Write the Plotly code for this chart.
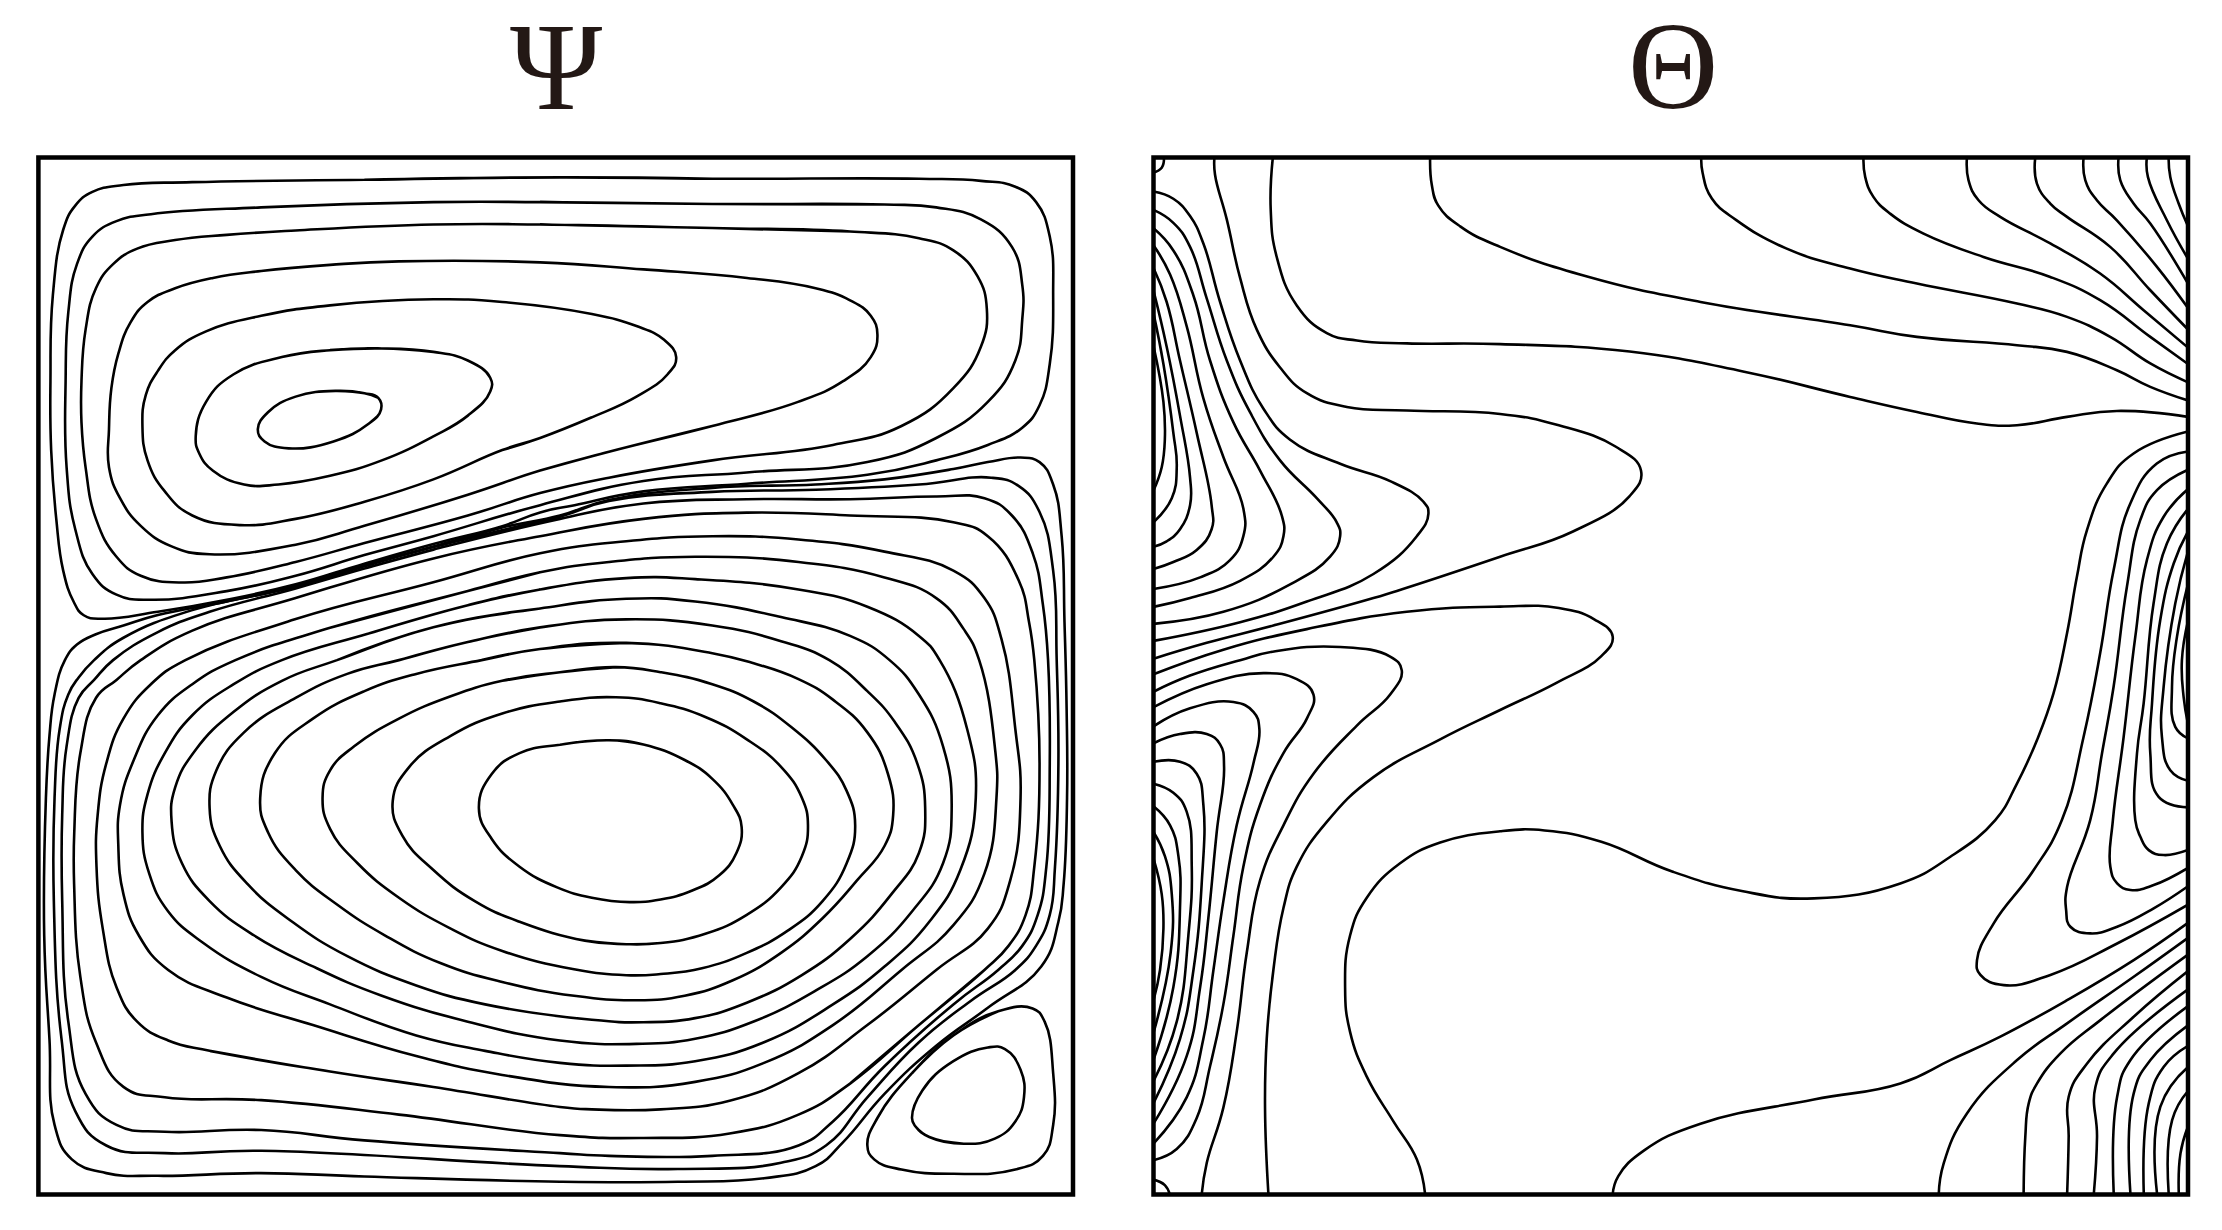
import math
import plotly.graph_objects as go

# contour lines, (x, y) in panel units
# Psi - upper cell, outer to inner
u1 = [(35.5,268.9),(37.2,208.2),(44.5,162),(53,145),(65.1,135.3),(87,130.4),(135.6,128.4),(257,126.7),(395,125),(502.5,126),(648.3,126),(692,127.5),(716.3,131.6),(731,142.5),(740.6,166.8),(743,208.2),(740.6,256.8),(733.4,285.9),(721.2,301.7),(696.9,313.9),(660.5,324.8),(611.9,335),(526.8,341.3),(453.9,346.7),(405.3,356.4),(381,361.5),(354.3,371.2),(305.7,383.8),(257,397.7),(208.5,412.3),(159.9,423.2),(111.3,431.7),(72.4,436.6),(59,434.1),(51.8,424.4),(44.5,402.6),(39.6,366.1),(36,317.5)]
u2 = [(46.2,268.9),(48.1,220.3),(54.2,186.3),(65.1,166.8),(82.1,155.9),(106.4,151),(184.2,146.2),(305.7,142.5),(381,142.5),(502.5,143.8),(624,144.2),(660.5,146.2),(692,154.7),(713.9,174.1),(721.2,200.9),(721.2,225.2),(716.3,254.3),(696.9,283.5),(660.5,309),(611.9,326),(526.8,333.3),(453.9,339.4),(381,356.4),(305.7,378.3),(257,391.6),(208.5,406.2),(159.9,417.1),(106.4,423.2),(82.1,419.6),(65.1,405),(53,373.4),(46.9,329.7)]
u3 = [(57.4,268.9),(60.3,232.5),(67.6,203.3),(79.7,186.3),(96.7,175.3),(123.5,169.3),(159.9,165.6),(208.5,162.5),(305.7,158.3),(381,158.3),(502.5,160.8),(599.7,163.2),(648.3,168),(672.6,176.6),(689.6,194.8),(696.2,217.9),(692,244.6),(672.6,273.8),(636,300.5),(587.6,313.9),(502.5,324.8),(429.6,337),(381,347.9),(330,363.7),(257.1,383.1),(208.5,396.5),(159.9,407.4),(128.3,411),(99.2,406.2),(82.1,392.8),(67.6,366.1),(60.3,329.7),(57.4,298)]
u4 = [(76.8,302.9),(78.5,273.8),(83.4,249.5),(91.9,227.6),(104,213),(123.5,203.3),(150.2,196),(184.2,191.1),(232.8,186.8),(281.4,184.3),(381,185),(454,190),(527,196),(575.4,203.3),(599.7,211.8),(614.3,222.7),(619,236),(614.3,251.9),(594.8,268.9),(563,283.5),(502.5,300.5),(429.6,318.7),(381,332),(330,349),(257,371),(208.5,384.3),(147.8,391.1),(121,385.5),(99.2,371),(84.6,351.5),(76.8,329.7)]
u5 = [(100.4,300.5),(102.8,278.6),(111.3,261.6),(123.5,247),(145.3,233.7),(184.2,222.7),(232.8,215.4),(305.7,211.1),(354.3,213),(417.5,221.5),(449,230),(468.5,239.7),(477,251.9),(471,264),(449,279.8),(417.5,294.4),(381,309),(354.3,317.5),(305.7,338.2),(257.1,354),(208.5,366.1),(169.6,370.5),(135.6,363.7),(116.2,346.7),(104,324.8)]
u6 = [(138,307.8),(145.3,283.5),(164.8,264),(198.8,251.9),(232.8,247),(269.3,245.8),(305.7,248.2),(330,254.3),(345.8,266.5),(345.8,276.2),(330,293.2),(305.7,307.8),(269.3,324.8),(232.8,335.7),(196.4,341.8),(172.1,341.8),(150.2,332.1),(140.5,319.9)]
u7 = [(181.8,302.9),(189,290.8),(208.5,279.8),(237.7,275.7),(257.1,277.4),(266.8,280.6),(268.8,288.8),(259.5,299.3),(235.2,311.4),(203.6,316.3),(186.6,311.4)]

# Psi - lower cell, outer to inner
l1 = [(31.1,660.2),(32.3,563),(34.8,519.3),(38.4,490),(45.7,465.8),(54.2,454.8),(67.6,447.5),(87,441.4),(111.3,434),(159.9,424.4),(208.5,413.5),(257,398.9),(305.7,385.5),(354.3,372.2),(395,363.7),(429.6,352.7),(502.5,344.2),(575.4,341.8),(624,338.2),(672.6,330.9),(696.9,326),(720,322.8),(733.4,326),(743,341.8),(749,378.3),(751,439),(752.5,500),(752.8,563),(750.4,623.8),(746.7,650.5),(734.6,682),(696.9,711.2),(660.5,738),(624,772),(594.8,806),(575.4,823),(539,831.5),(478.2,834),(395,834),(257,830.3),(184,827.9),(111.3,829.8),(74.9,827.9),(50.6,818.2),(38.4,793.9),(34.8,733.1)]
l2 = [(37.9,636),(38.4,563),(42,514.4),(48.1,490),(55.4,478),(66.3,465.8),(87,450),(135.6,430.5),(208.5,414),(257,399.5),(305.7,386),(395,364.5),(429.6,353.5),(502.5,347),(575.4,345.5),(648.3,341.8),(699.3,337),(718.8,343),(733.4,361.2),(743,402.6),(745.5,465.8),(746.7,538.7),(744.3,611.6),(740.6,645.6),(730.9,667.5),(716.3,684.5),(684.8,706.4),(648.3,735.5),(611.9,774.4),(582.7,808.4),(551,820.6),(478.2,825),(395,823),(184.2,812.1),(116.2,813.8),(74.9,808.4),(53,784.1),(43.3,733.1)]
l3 = [(43.8,635.9),(43.8,575),(46.9,526.5),(55.4,492.5),(66.3,479.8),(79.7,465.8),(111.3,446),(147.8,431.7),(208.5,415.2),(257,401.1),(305.7,387.8),(395,366.1),(453.9,355.2),(526.8,352.2),(599.7,352.2),(660.5,350.3),(694.5,351.5),(713.9,363.7),(728.6,390.4),(735.8,426.9),(739.4,465.8),(740.6,538.7),(738.2,611.6),(732.1,645.6),(721.2,667.5),(704.2,684.5),(672.6,708.8),(624,752.5),(587.6,791.4),(563.3,808.4),(502.5,815.7),(429.6,815.7),(395,813.8),(257,804.8),(184.2,797.5),(116.2,798.7),(82.1,793.9),(60.3,772),(48.1,721)]
l4 = [(52.2,623.8),(52.3,587.3),(56.6,531.4),(67.6,492.5),(82.1,479.8),(99.2,465.8),(135.6,445),(208.5,422),(305.7,394),(381,378.3),(453.9,366.1),(526.8,361.7),(599.7,363.7),(672.6,368.5),(696.9,378.3),(718.8,409.8),(726,439),(729.7,465.8),(733.4,538.7),(729.7,611.6),(723.6,645.6),(711.5,667.5),(694.5,684.5),(648.3,723.4),(599.7,764.7),(563.3,786.6),(514.7,799.9),(453.9,803.1),(395,801.1),(281.4,786.6),(184.2,776.4),(116.2,774.4),(87,767),(67.6,735.5),(56.6,689.4)]
l5 = [(68,611.6),(68.8,575.2),(74.9,538.7),(87,507.1),(106.4,482.8),(130.7,465.8),(208,437),(305,411),(381,390.4),(441.8,381.9),(502.5,378.3),(563.3,380.7),(624,389.2),(672.6,402.6),(694.5,422),(706.6,451.2),(716.3,514.4),(720,563),(712.7,621.3),(696.9,655.3),(660.5,684.5),(611.9,723.4),(563.3,757.4),(514.7,776.8),(466,782.9),(417.5,782.9),(395,781.2),(305.7,767.1),(232.8,756.2),(147.8,741.6),(118.6,734.3),(96.7,721),(82.1,696.7),(72.4,655.3)]
l6 = [(83.4,597),(84.6,567.9),(94.3,536.3),(111.3,504.7),(135.6,482.8),(166,465.8),(232.8,443),(330,417),(381,403.8),(429.6,396.5),(490.4,392.8),(563.3,396.5),(624,407.4),(660.5,422),(679.9,443.9),(690.8,465.8),(701.8,526.6),(703,563),(694.5,616.5),(672.6,652.9),(636,684.5),(587.6,723.4),(539,750.1),(490.4,763.5),(429.6,767.1),(354.3,758.6),(293.6,745.3),(220.7,723.4),(159.9,704),(118.6,684.5),(97.9,660.2),(87,631)]
l7 = [(100.4,587.3),(104,560.6),(116.2,531.4),(135.6,504.7),(164.8,482.8),(198.8,465.8),(260,447),(330,427),(381,415.9),(441.8,407.9),(490.4,408.6),(563.3,415.9),(611.9,428.1),(648.3,448.7),(662.9,465.8),(682.3,514.4),(688.4,563),(677.5,614),(655.6,650.5),(624,682.1),(587.6,708.8),(539,735.5),(490.4,748.9),(441.8,752),(395,750.1),(342.2,741.6),(293.6,730.7),(232.8,708.8),(184.2,689.4),(142.9,665.1),(118.6,643.2),(105.2,616.5)]
l8 = [(121,580),(123.5,555.7),(138,529),(164.8,502.3),(198.8,480.4),(237.7,465.8),(305.7,442.6),(381,429.3),(441.8,422.5),(490.4,424.4),(551,435.4),(599.7,448.7),(627.6,465.8),(648.3,490.1),(665.3,526.6),(671.4,570.3),(665.3,609.2),(643.4,643.2),(611.9,674.8),(575.4,699.1),(531.7,720.9),(490.4,733.1),(449,736.7),(395,734.3),(330,721),(269.3,702.7),(220.7,682),(179.3,660.2),(147.8,635.9),(128.3,609.2)]
l9 = [(147.8,570.3),(152.6,543.6),(172.1,516.8),(208.5,492.5),(244.9,475.5),(281.4,465.8),(330,453),(381,442.7),(441.8,437),(502.5,441.4),(551,452.4),(585.1,465.8),(611.9,487.7),(631.3,509.5),(647.1,538.7),(652.7,570.3),(648.3,601.9),(628.9,631),(599.7,662.6),(565.7,688.1),(526.8,707.6),(490.4,718.5),(453.9,721.4),(417.5,719.7),(342.2,708.8),(293.6,695.4),(245,674.8),(206.1,650.5),(174.5,623.8),(155,597)]
l10 = [(183.5,563),(193.9,531.4),(220.7,507.1),(257.1,487.7),(293.6,475.5),(339.7,465.8),(381,458),(441.8,453.6),(502.5,460.9),(531.7,468),(563.3,479.2),(587.6,493.7),(611.9,516.8),(626.4,546),(630.1,575.2),(624,597),(604.6,621.3),(580.3,648),(551,672.4),(517,691.8),(483,702.7),(449,705.9),(405,702.7),(354.3,693),(310.6,679.6),(271.7,660.2),(237.7,638.3),(208.5,614),(189,587.3)]
l11 = [(227.5,563),(232.8,543.6),(249.8,526.6),(281.4,507.1),(317.9,491.3),(354.3,480.4),(395,474.3),(434.5,470.7),(466,474.3),(502.5,482.8),(531.7,495),(558.4,513.2),(582.7,536.3),(597.3,558.1),(603.3,582.4),(597.3,609.2),(580.3,635.9),(556,656.6),(526.8,672.4),(495.2,683.3),(466,687.4),(441.8,688.2),(405,684),(354.3,671.1),(317.9,655.3),(281.4,633.5),(252.2,609.2),(232.8,584.9)]
l12 = [(277,565.4),(288.7,541.1),(317.9,519.3),(354.3,503.5),(395,495),(434.5,492),(466,496.2),(497.6,505.9),(526.8,521.7),(551,541.1),(565.7,563),(570,582.4),(565.7,604.3),(551,626.2),(526.8,645.6),(497.6,659),(466,665.5),(441.8,666.3),(412.6,663.8),(366.5,650.5),(334.9,635.9),(305.7,614),(283.8,589.7)]
l13 = [(337.8,570.3),(347,546),(366.5,531.4),(395,525.5),(429.6,522.4),(453.9,525.3),(483,536.3),(502.5,549.6),(517,567.9),(523.2,583.7),(519.5,601.9),(507.4,617.7),(487.9,628.6),(466,634.7),(444.2,636.6),(417.5,633.5),(393,626.2),(366.5,611.6),(347,592.2)]

# Psi - corner cell
c1 = [(611.9,808.4),(619,789),(643.4,757.4),(672.6,730.7),(704.2,713.7),(728.5,711.7),(737,721),(743,757.4),(743,793.9),(735.8,815.7),(716.3,825.4),(672.6,828.4),(636,825.4),(616.7,818.2)]
c2 = [(643.4,789),(650.7,769.6),(672.6,748.9),(696.9,739.2),(709,740.4),(720,755),(722.4,774.4),(716.3,791.4),(701.8,803.6),(679.9,807.2),(655.6,802.4),(645.9,795)]

psi_closed = [u1, u2, u3, u4, u5, u6, u7, l1, l2, l3, l4, l5, l6, l7, l8, l9, l10, l11, l12, l13, c1, c2]

# Theta - long lines and left wall
t1 = [(898.2,111),(896.7,147.4),(901,181.4),(915.1,215.4),(936.3,234.9),(957.5,240.2),(992.7,242.2),(1058.6,242.7),(1150,248),(1230,262),(1305.6,280),(1352.7,290.6),(1395,298.8),(1423.3,300),(1458.6,294.1),(1493.8,289.9),(1544,294.1)]
t2 = [(857,111),(857.4,123),(865.7,154.7),(875.1,196),(886.9,232.5),(903.3,259.2),(922.2,277.4),(950.4,287.1),(992.7,289.6),(1058.6,292),(1100,300),(1140,315),(1158,332),(1150,350),(1110,375),(1058.6,392.8),(992.7,414.7),(969.2,422),(898.6,441.4),(851.6,453.6),(814,464.8)]
t3 = [(814,135),(828,140.1),(839.8,152.3),(849.2,171.7),(861,213),(875.1,254.3),(891.6,288.3),(910.4,310.2),(945.7,327.2),(981,339.4),(1004.5,354),(1008,362.4),(999.8,378.3),(969.2,405),(922.2,424.4),(875.1,439),(814,452.2)]
t4 = [(814,148),(828,157.1),(839.8,174.1),(851.6,210.6),(865.7,254.3),(882.1,290.8),(903.3,324.8),(929.2,351.5),(943.3,368.5),(945.7,378.3),(938.6,392.8),(910.4,412.3),(863.3,431.7),(814,440.2)]
t5 = [(814,161),(828,176.6),(842.1,208.2),(853.9,254.3),(870.4,298),(889.2,332),(904.5,363.7),(905.7,378.3),(898.6,392.8),(875.1,409.8),(839.8,422),(814,428.2)]
t6 = [(814,173),(825.7,193.6),(837.4,230),(849.2,281),(863.3,322.4),(877.4,358.8),(877.4,378.3),(868,395.2),(846.9,407.4),(814,415.6)]
t7 = [(814,189),(823.3,213),(832.7,254.3),(844.5,305.4),(855,356.4),(855,373.4),(844.5,388),(828,396.5),(814,401.5)]
t8 = [(814,205),(823.3,244.6),(832.7,293.2),(839.8,337),(839.8,356.4),(832.7,373.4),(823.3,381.9),(814,385.7)]
t9 = [(814,221),(821,256.8),(828,305.4),(830.4,329.6),(826.9,351.5),(814,368.5)]
t10 = [(814,244),(821,283.5),(822,310),(819.8,329.6),(814,346)]
t11 = [(814,475.8),(863.3,458.4),(922.2,443.9),(992.7,431.7),(1058.6,428),(1100,429),(1125,437),(1138,449),(1130,463),(1098,482),(1058.6,501),(1016.3,521.7),(969.2,548.4),(936.3,580),(915.1,611.6),(905.7,640.8),(898.6,684.5),(893.9,733.1),(892.7,781.7),(895.1,843)]
t12 = [(814,488.1),(839.8,476.7),(875.1,465.8),(900,459.5),(945.7,456.5),(981,463.3),(989.2,473),(981,490.1),(957.5,512),(926.9,546),(905.7,582.4),(889.2,621.3),(879.8,672.4),(872.7,728.2),(863.3,781.7),(851.6,820.6),(848,843)]
t13 = [(814,499),(851.6,482.8),(891.6,475),(915.1,479.2),(926.9,490.1),(922.2,507.1),(905.7,531.4),(889.2,567.9),(877.4,611.6),(870.4,660.2),(863.3,708.8),(853.9,752.5),(844.5,789),(830.4,810.9),(814,818.8)]
t14 = [(814,512.5),(839.8,499.8),(870.4,495.4),(884.5,502.3),(888.7,514.4),(884.5,538.7),(872.7,582.4),(863.3,635.9),(856.3,684.5),(849.2,733.1),(837.4,774.4),(814,807)]
t15 = [(814,524.5),(832.7,518),(851.6,518),(861,525.3),(863.8,541.1),(858.6,587.3),(852.7,648),(846.9,696.7),(837.4,745.3),(814,793)]
t16 = [(814,537.5),(832.7,537.5),(844.5,546),(849.2,567.9),(848,623.8),(842.2,684.5),(832.7,733.1),(814,778.5)]
t17 = [(814,553),(828,559.4),(837.4,572.7),(841,611.6),(838.6,660.2),(830.4,721),(814,763)]
t18 = [(814,569),(825.7,582.4),(831.6,604.3),(832.7,640.8),(828,696.7),(814,748)]
t19 = [(814,587),(822.1,604.3),(826.9,631),(826.1,672.4),(814,729)]
t20 = [(814,606),(819.8,631),(821,655.4),(818.6,684.5),(814,706)]
corner_top = [(821.4,111),(819.8,118.2),(814,121.5)]
corner_bot = [(814,832.5),(822,836.4),(825.5,843)]

# Theta - top right fan
t21 = [(1009.2,111),(1010.4,130.4),(1015,145),(1030.4,159.6),(1058.6,174.1),(1120,195),(1200,213),(1305.6,229.4),(1352.7,237.6),(1423.3,243.5),(1458.6,248.2),(1493.8,261.2),(1517.4,272.9),(1544,282.5)]
t22 = [(1200.5,111),(1201.5,122),(1208,140),(1225,155),(1260,175),(1305.6,189.4),(1352.7,200),(1423.3,214.1),(1458.6,223.5),(1489.1,237.6),(1517.4,256.4),(1544,269.7)]
t23 = [(1315,111),(1316.2,124.7),(1322,138.8),(1333.8,150.6),(1357.4,164.7),(1399.7,181.2),(1446.8,195.3),(1482,211.7),(1517.4,237.6),(1544,256.8)]
t24 = [(1388,111),(1389.1,127),(1396.2,141.2),(1411.5,152.9),(1446.8,171.7),(1482,192.9),(1512.7,218.8),(1544,245.2)]
t25 = [(1436.2,111),(1437.4,129.4),(1446.8,143.5),(1458.6,152.9),(1489.1,174.1),(1517.4,204.7),(1544,232.4)]
t26 = [(1470.3,111),(1471.5,127),(1479.7,141.2),(1493.8,155.3),(1522.1,188.2),(1544,217.3)]
t27 = [(1495,111),(1496.2,127),(1505.6,143.5),(1517.4,157.6),(1544,200)]
t28 = [(1515,111),(1515.7,124.7),(1529.1,155.3),(1544,182.5)]
t29 = [(1530.3,111),(1531.5,124.7),(1537.4,143.5),(1544,159.5)]

# Theta - right wall
r1 = [(1005.7,843),(999.8,818.2),(983.3,791.4),(964.5,759.8),(952.7,728.2),(949.2,696.7),(952.7,660.2),(964.5,633.5),(988,609.2),(1016.3,594.6),(1058.6,586.6),(1090,586),(1130,594),(1180,615),(1230,629),(1280,634),(1341,623.4),(1376.3,604.6),(1408,578.7),(1423.3,552.9),(1437.4,522.3),(1449.1,489.3),(1458.6,447),(1465.6,407),(1472.7,374),(1486.8,341),(1505.6,319.9),(1544,304.4)]
r2 = [(1544,318.5),(1522,327),(1503.3,355.2),(1491.5,402.3),(1482,461),(1470.3,520),(1455,578.7),(1435.1,614),(1406.9,651.6),(1395.1,677.5),(1397.5,688),(1414,695.2),(1446.9,688),(1494,665.8),(1544,638.4)]
r3 = [(1544,331.4),(1522.1,345.8),(1510.3,367),(1500.9,414),(1491.5,484.6),(1483.3,531.7),(1475,578.7),(1458.7,625.8),(1458,642.2),(1461,654),(1475,658.7),(1494,654),(1519.8,641),(1544,625.4)]
r4 = [(1544,345),(1526.8,364.6),(1515,395.2),(1506.8,449.4),(1498.6,520),(1491,578.7),(1489.2,611.6),(1494,623.4),(1503.4,628),(1519.8,624.6),(1544,612.5)]
r5 = [(1544,359),(1529.1,383.5),(1519.7,425.8),(1512.7,496.4),(1508,531.7),(1506.8,578.7),(1510.4,590.5),(1516.3,599.9),(1526.9,603.4),(1544,599.8)]
r6 = [(1544,375),(1533.9,397.6),(1524.4,437.6),(1518.6,496.4),(1517.4,531.7),(1523.3,562.3),(1544,569.7)]
r7 = [(1544,389),(1535,425.8),(1526.8,484.6),(1525.6,519.9),(1531.5,543.5),(1544,551)]
r8 = [(1544,412),(1536.2,449.4),(1532.7,484.6),(1535,512.9),(1544,521)]
r9 = [(1544,438),(1539.7,465.8),(1540.9,491.7),(1544,511)]

# Theta - bottom right corner
b0 = [(1138,843),(1142,830),(1160,812),(1200,793),(1280,776),(1341,764.6),(1376.3,748.1),(1411.6,731.6),(1458.7,705.8),(1505.7,677.5),(1544,651.2)]
b1 = [(1368.1,843),(1371.6,821),(1388,785.8),(1423.4,748.1),(1458.7,722.2),(1505.7,689.3),(1544,661.8)]
b2 = [(1428,843),(1429.2,802.2),(1431.6,778.7),(1437.5,764.6),(1454,743.4),(1482.2,719.9),(1544,673.6)]
b3 = [(1458.7,843),(1459.8,802.2),(1459.8,774),(1472.8,750.5),(1505.7,717.5),(1544,685.3)]
b4 = [(1477.5,843),(1479.8,802.2),(1478.7,766.9),(1491.6,743.4),(1544,698.2)]
b5 = [(1491.6,843),(1494,774),(1503.4,748.1),(1544,710)]
b6 = [(1503.4,843),(1505.7,771.6),(1517.5,748.1),(1544,723.6)]
b7 = [(1512.8,843),(1516.3,778.7),(1526.9,752.8),(1544,738)]
b8 = [(1522.2,843),(1524.5,781),(1544,753)]
b9 = [(1530.4,843),(1532.8,790.5),(1544,770)]
b10 = [(1537.5,843),(1538.7,814),(1544,795)]

theta_open = [t1, t2, t3, t4, t5, t6, t7, t8, t9, t10, t11, t12, t13, t14, t15, t16, t17, t18, t19, t20,
              corner_top, corner_bot, t21, t22, t23, t24, t25, t26, t27, t28, t29,
              r1, r2, r3, r4, r5, r6, r7, r8, r9, b0, b1, b2, b3, b4, b5, b6, b7, b8, b9, b10]

W, H = 2222, 1230
PAGE_MARGIN = 8  # the browser's body margin moves the whole figure by this much
LINE = dict(color="black", width=2.6, shape="spline", smoothing=1.3, simplify=False)


def px_x(v):
    return (v - PAGE_MARGIN) / W


def px_y(v):
    return 1 - (v - PAGE_MARGIN) / H


def turn(a, b, c):
    d = math.atan2(c[1] - b[1], c[0] - b[0]) - math.atan2(b[1] - a[1], b[0] - a[0])
    return abs((d + math.pi) % (2 * math.pi) - math.pi)


def close_loop(pts):
    # start on the straightest stretch: the spline's first segment is slightly off,
    # and running past the start hides the seam
    n = len(pts)
    start = min(range(n), key=lambda i: turn(pts[i - 1], pts[i], pts[(i + 1) % n])
                + turn(pts[i], pts[(i + 1) % n], pts[(i + 2) % n]))
    ring = pts[start:] + pts[:start]
    return ring + ring[:3]


fig = go.Figure()

for pts in psi_closed:
    loop = close_loop(pts)
    fig.add_trace(go.Scatter(x=[p[0] for p in loop], y=[p[1] for p in loop],
                             mode="lines", line=LINE, xaxis="x", yaxis="y",
                             hoverinfo="skip", showlegend=False))

for pts in theta_open:
    fig.add_trace(go.Scatter(x=[p[0] for p in pts], y=[p[1] for p in pts],
                             mode="lines", line=LINE, xaxis="x2", yaxis="y2",
                             hoverinfo="skip", showlegend=False))

axis = dict(visible=False, showgrid=False, zeroline=False)
fig.update_layout(
    width=W, height=H, autosize=False,
    margin=dict(l=0, r=0, t=0, b=0),
    paper_bgcolor="white", plot_bgcolor="white",
    showlegend=False,
    xaxis=dict(axis, range=[27, 757], domain=[px_x(38.4), px_x(1073)]),
    yaxis=dict(axis, range=[843, 111], domain=[px_y(1194.5), px_y(157.5)]),
    xaxis2=dict(axis, range=[814, 1544], domain=[px_x(1153.5), px_x(2188)]),
    yaxis2=dict(axis, range=[843, 111], domain=[px_y(1194.5), px_y(157.5)]),
    shapes=[
        dict(type="rect", xref="x domain", yref="y domain", x0=0, x1=1, y0=0, y1=1,
             line=dict(color="black", width=4.5)),
        dict(type="rect", xref="x2 domain", yref="y2 domain", x0=0, x1=1, y0=0, y1=1,
             line=dict(color="black", width=4.5)),
    ],
    annotations=[
        dict(text="Ψ", x=px_x(556), y=px_y(67), xref="paper", yref="paper",
             showarrow=False, xanchor="center", yanchor="middle",
             font=dict(family="Liberation Serif", size=125, color="#231815")),
        dict(text="Θ", x=px_x(1673), y=px_y(66), xref="paper", yref="paper",
             showarrow=False, xanchor="center", yanchor="middle",
             font=dict(family="Liberation Serif", size=125, color="#231815")),
    ],
)

fig.write_html("out.html")
